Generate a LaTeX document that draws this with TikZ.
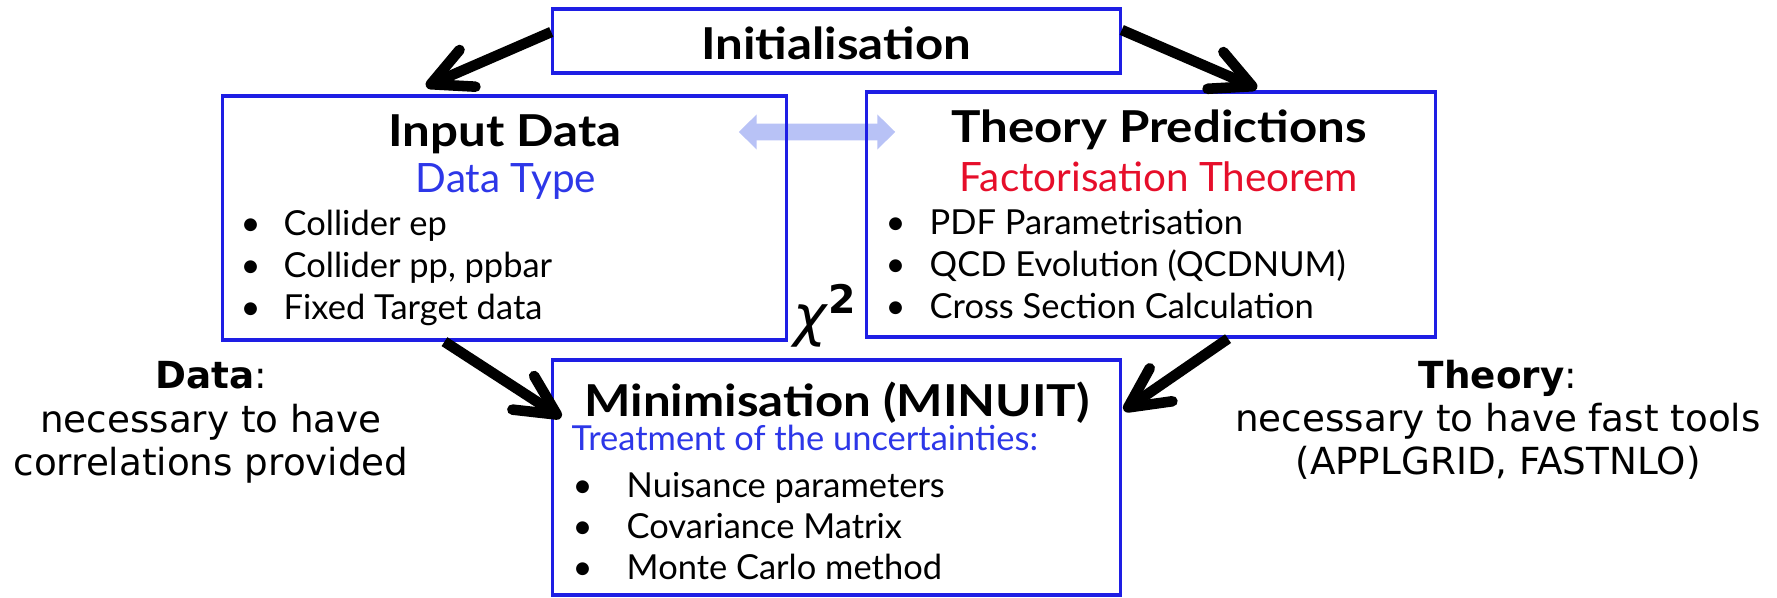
\documentclass[tikz,border=0pt]{standalone}
\usepackage{fontspec}
\setmainfont{Lato}[BoldFeatures={FakeStretch=1.12}]
\newfontfamily\notefont{DejaVu Sans}
\usetikzlibrary{arrows.meta,backgrounds}

\definecolor{frameblue}{RGB}{30,30,228}
\definecolor{typeblue}{RGB}{45,55,232}
\definecolor{theored}{RGB}{230,14,42}
\definecolor{swapblue}{RGB}{184,194,246}

% bullet followed by the item text
\newcommand{\bulletgap}[2]{\makebox[#1][l]{\textbullet}#2}

\begin{document}
\begin{tikzpicture}[x=0.01cm,y=-0.01cm,
    stage/.style={draw=frameblue,line width=0.9pt,inner sep=0pt},
    heading/.style={inner sep=0pt,anchor=base,font=\bfseries\fontsize{12.5}{15}\selectfont},
    subhead/.style={inner sep=0pt,anchor=base,font=\fontsize{11.5}{14}\selectfont},
    entry/.style={inner sep=0pt,anchor=base west,font=\fontsize{9.8}{11}\selectfont},
    remark/.style={inner sep=0pt,anchor=north,align=center,font=\notefont\fontsize{10.6}{12.3}\selectfont},
    flow/.style={line width=3pt,-{Straight Barb[length=0.4cm,width=0.4cm,round]}},
    swap/.style={swapblue,line width=4.8pt,{Triangle[length=0.18cm,width=0.34cm]}-{Triangle[length=0.18cm,width=0.34cm]}}]
  \useasboundingbox (0,0) rectangle (1777,597);

  % top box
  \node[stage,minimum width=5.67cm,minimum height=0.64cm] (init) at (836.5,41) {};
  \node[heading] (init-title) at (836,59) {Initialisation};

  % data side
  \node[stage,minimum width=5.63cm,minimum height=2.44cm] (data) at (504.5,218) {};
  \node[heading] (data-title) at (505,146) {Input Data};
  \node[subhead,text=typeblue] (data-type) at (506,192) {Data Type};
  \foreach \txt [count=\i] in {Collider ep,{Collider pp, ppbar},Fixed Target data}
    \node[entry] (data-\i) at (240,193+42*\i) {\bulletgap{0.43cm}{\txt}};

  % theory side
  \node[stage,minimum width=5.68cm,minimum height=2.45cm] (theory) at (1151,214.5) {};
  \node[heading] (theory-title) at (1159,142) {Theory Predictions};
  \node[subhead,text=theored] (theory-sub) at (1159,191) {Factorisation Theorem};
  \foreach \txt [count=\i] in {PDF Parametrisation,QCD Evolution (QCDNUM),Cross Section Calculation}
    \node[entry] (theory-\i) at (885,192+42*\i) {\bulletgap{0.44cm}{\txt}};

  % fit box
  \node[stage,minimum width=5.67cm,minimum height=2.35cm] (fit) at (836.5,477.5) {};
  \node[heading] (fit-title) at (837,416) {Minimisation (MINUIT)};
  \node[entry,text=typeblue] (fit-sub) at (571,450) {Treatment of the uncertainties:};
  \foreach \txt [count=\i] in {Nuisance parameters,Covariance Matrix,Monte Carlo method}
    \node[entry] (fit-\i) at (572,456+41*\i) {\bulletgap{0.54cm}{\txt}};

  \node[inner sep=0pt,font=\notefont\fontsize{16}{18}\selectfont] (chi) at (826,316) {\textit{χ}\textsuperscript{\bfseries 2}};

  % side remarks
  \node[remark] (data-note) at (211,361) {\textbf{Data}:\\necessary to have\\correlations provided};
  \node[remark] (theory-note) at (1498,359) {\textbf{Theory}:\\necessary to have fast tools\\(APPLGRID, FASTNLO)};

  % arrows
  \draw[flow] ([yshift=0.09cm]init.west) -- ([xshift=-0.785cm,yshift=0.08cm]data.north);
  \draw[flow] ([yshift=0.11cm]init.east) -- ([xshift=1.06cm,yshift=0.02cm]theory.north);
  \draw[flow] ([xshift=-0.6cm]data.south) -- ([xshift=0.1cm,yshift=0.6cm]fit.west);
  \draw[flow] ([xshift=0.77cm]theory.south) -- ([xshift=0.02cm,yshift=0.67cm]fit.east);
  \begin{scope}[on background layer]
    \draw[swap] ([xshift=-0.49cm,yshift=0.86cm]data.east) -- ([xshift=0.3cm,yshift=0.825cm]theory.west);
  \end{scope}
\end{tikzpicture}
\end{document}
